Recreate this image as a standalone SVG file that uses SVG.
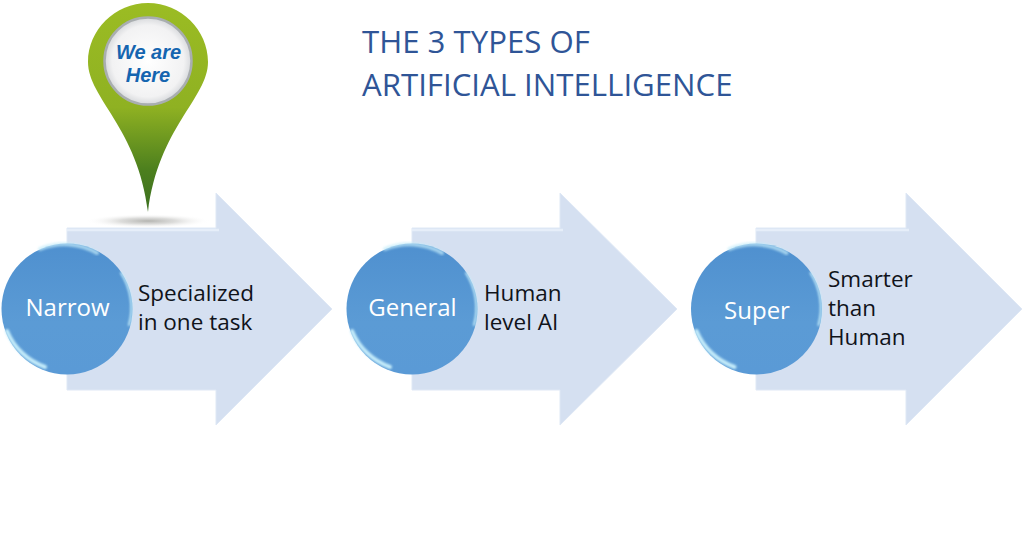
<svg xmlns="http://www.w3.org/2000/svg" width="1024" height="550" viewBox="0 0 1024 550">
<style>
.arrow{fill:#d5e0f1;stroke:#dfe8f5;stroke-width:1}
.bevel{fill:none;stroke:#e6eef9;stroke-width:2.500}
.orb{fill:url(#orb)}
.rim{fill:none;stroke:#c4ecfa;stroke-linecap:round;filter:url(#soft)}
.rim1{stroke-width:4;opacity:.7}
.rim2{stroke-width:4}
.rim3{stroke-width:2}
.t{font-family:"Open Sans","Noto Sans",sans-serif}
.b{fill:#10131a;font-size:22.500px}
.w{fill:#fff;text-anchor:middle;font-size:24px}
.title{font-family:"Open Sans","Noto Sans",sans-serif;font-size:31.200px;fill:#2f5597}
.here{font-family:"Liberation Sans",sans-serif;font-size:20px;font-weight:bold;font-style:italic;fill:#1565b0;text-anchor:middle}
</style>
<defs>
<filter id="soft" x="-30%" y="-30%" width="160%" height="160%"><feGaussianBlur stdDeviation="1.200"/></filter>
<linearGradient id="orb" x1="0" y1="0" x2="0" y2="1"><stop offset="0" stop-color="#4f90cf"/><stop offset=".6" stop-color="#5b9bd5"/><stop offset="1" stop-color="#5a9ad6"/></linearGradient>
<linearGradient id="pin" x1="0" y1="0" x2="0" y2="1"><stop offset="0" stop-color="#9bbc23"/><stop offset=".5" stop-color="#8fb122"/><stop offset=".8" stop-color="#4c7f1e"/><stop offset="1" stop-color="#3c7020"/></linearGradient>
<radialGradient id="face" cx=".5" cy=".5" r=".55"><stop offset="0" stop-color="#fff"/><stop offset=".75" stop-color="#f2f2f3"/><stop offset="1" stop-color="#c9ccd0"/></radialGradient>
<radialGradient id="shadow" cx=".5" cy=".5" r=".5"><stop offset="0" stop-color="#b4b4b0"/><stop offset=".45" stop-color="#d4d4d2" stop-opacity=".8"/><stop offset="1" stop-color="#fff" stop-opacity="0"/></radialGradient>
<g id="rims">
<path class="rim rim1" d="M-27 -60A66 66 0 0 1 30 -56"/>
<path class="rim rim2" d="M-60 22A64 64 0 0 0 -22 58"/>
<path class="rim rim3" d="M54 -36A64 64 0 0 1 62 16"/>
</g>
</defs>
<g id="connectors"></g>
<g id="arrow-narrow">
<path class="arrow" d="M67 228H216V193L332 309L216 425V390H67Z"/>
<path class="bevel" d="M67 230H219"/>
</g>
<g id="arrow-general">
<path class="arrow" d="M412 228H560V193L677 309L560 425V390H412Z"/>
<path class="bevel" d="M412 230H563"/>
</g>
<g id="arrow-super">
<path class="arrow" d="M756 228H906V193L1022 309L906 425V390H756Z"/>
<path class="bevel" d="M756 230H909"/>
</g>
<g id="node-narrow">
<circle class="orb" cx="67" cy="309" r="65.500"/>
<use href="#rims" x="67" y="309"/>
<text class="t w" x="67.500" y="316">Narrow</text>
<text class="t b" x="138" y="301">Specialized</text>
<text class="t b" x="138" y="330">in one task</text>
</g>
<g id="node-general">
<circle class="orb" cx="412" cy="309" r="65.500"/>
<use href="#rims" x="412" y="309"/>
<text class="t w" x="412.500" y="316">General</text>
<text class="t b" x="484" y="301">Human</text>
<text class="t b" x="484" y="330">level AI</text>
</g>
<g id="node-super">
<circle class="orb" cx="756.500" cy="309" r="65.500"/>
<use href="#rims" x="756.500" y="309"/>
<text class="t w" x="757" y="319">Super</text>
<text class="t b" x="828" y="287">Smarter</text>
<text class="t b" x="828" y="316">than</text>
<text class="t b" x="828" y="345">Human</text>
</g>
<g id="pin-we-are-here">
<ellipse cx="148" cy="221" rx="62" ry="7" fill="url(#shadow)"/>
<path d="M148 3C115 3 88 30 88 62C88 98 138 128 148 212C158 128 208 98 208 62C208 30 181 3 148 3Z" fill="url(#pin)"/>
<circle cx="148" cy="61" r="43.500" fill="url(#face)" stroke="#a9aeb0" stroke-width="2.500"/>
<text class="here" x="148.500" y="59">We are</text>
<text class="here" x="148" y="82">Here</text>
</g>
<g id="title">
<text class="title" x="362" y="53">THE 3 TYPES OF</text>
<text class="title" x="362" y="96">ARTIFICIAL INTELLIGENCE</text>
</g>
</svg>
